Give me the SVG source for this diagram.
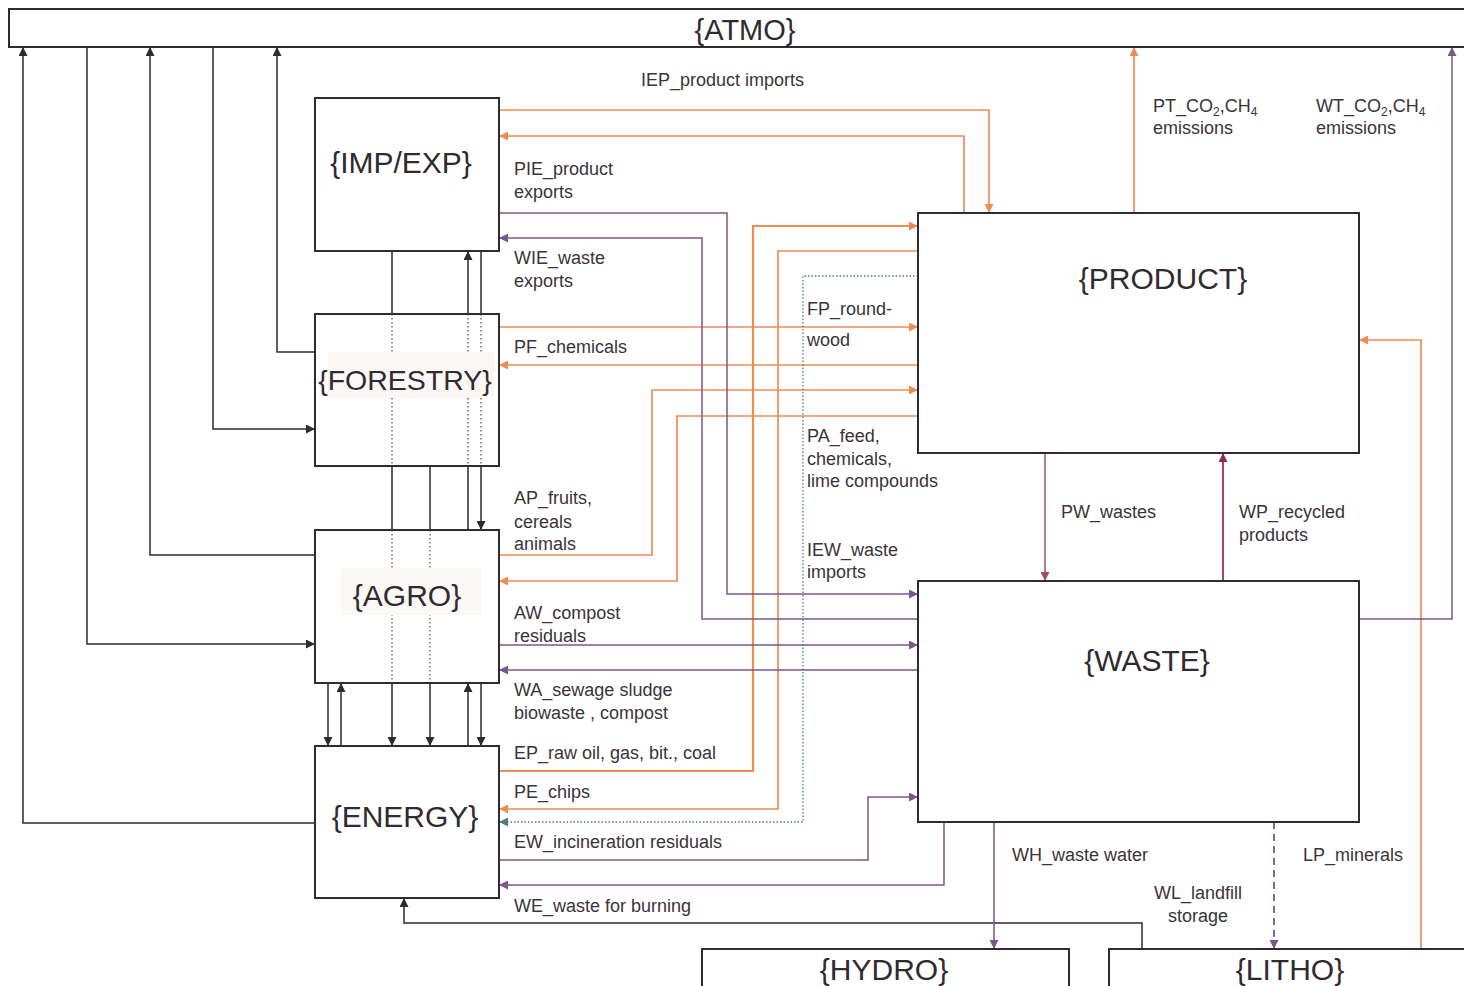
<svg xmlns="http://www.w3.org/2000/svg" width="1464" height="986" viewBox="0 0 1464 986">
<style>
.box{fill:none;stroke:#302a31;stroke-width:2}
.title{font-family:"Liberation Sans",Arial,sans-serif;font-size:30px;fill:#302a31;text-anchor:middle}
.lbl{font-family:"Liberation Sans",Arial,sans-serif;font-size:18px;fill:#3b3339}
.sub{font-size:12px}
.dk{fill:none;stroke:#302a31;stroke-width:1.5}
.dot{fill:none;stroke:#5a5358;stroke-width:1.3;stroke-dasharray:1.5 2.5}
.or{fill:none;stroke:#ef8c55;stroke-width:1.7}
.pu{fill:none;stroke:#7d558c;stroke-width:1.5}
.te{fill:none;stroke:#4d7d85;stroke-width:1.3;stroke-dasharray:1.5 2}
.pw{fill:none;stroke:#a0505c;stroke-width:1.5}
.wp{fill:none;stroke:#8c2a56;stroke-width:1.7}
.bg{fill:#faf7f5}
</style>
<defs>
<marker id="aDk" viewBox="0 0 10 10" refX="10" refY="5" markerWidth="10" markerHeight="9" markerUnits="userSpaceOnUse" orient="auto"><path d="M0,0 L10,5 L0,10 z" fill="#302a31"/></marker>
<marker id="aOr" viewBox="0 0 10 10" refX="10" refY="5" markerWidth="10" markerHeight="9" markerUnits="userSpaceOnUse" orient="auto"><path d="M0,0 L10,5 L0,10 z" fill="#ef8c55"/></marker>
<marker id="aPu" viewBox="0 0 10 10" refX="10" refY="5" markerWidth="10" markerHeight="9" markerUnits="userSpaceOnUse" orient="auto"><path d="M0,0 L10,5 L0,10 z" fill="#7d558c"/></marker>
<marker id="aTe" viewBox="0 0 10 10" refX="10" refY="5" markerWidth="10" markerHeight="9" markerUnits="userSpaceOnUse" orient="auto"><path d="M0,0 L10,5 L0,10 z" fill="#4d7d85"/></marker>
<marker id="aPw" viewBox="0 0 10 10" refX="10" refY="5" markerWidth="10" markerHeight="9" markerUnits="userSpaceOnUse" orient="auto"><path d="M0,0 L10,5 L0,10 z" fill="#a0505c"/></marker>
<marker id="aWp" viewBox="0 0 10 10" refX="10" refY="5" markerWidth="10" markerHeight="9" markerUnits="userSpaceOnUse" orient="auto"><path d="M0,0 L10,5 L0,10 z" fill="#8c2a56"/></marker>
</defs>
<rect x="0" y="0" width="1464" height="986" fill="#ffffff"/>

<g id="connectors">
  <!-- ATMO links -->
  <path class="dk" d="M315,823 H23 V47" marker-end="url(#aDk)"/>
  <path class="dk" d="M87,47 V644 H315" marker-end="url(#aDk)"/>
  <path class="dk" d="M315,555 H150 V47" marker-end="url(#aDk)"/>
  <path class="dk" d="M213,47 V429 H315" marker-end="url(#aDk)"/>
  <path class="dk" d="M315,352 H277 V47" marker-end="url(#aDk)"/>
  <!-- vertical links between sectors -->
  <path class="dk" d="M392,251 V314 M392,466 V530 M392,683 V746" marker-end="url(#aDk)"/>
  <path class="dot" d="M392,314 V466 M392,530 V683"/>
  <path class="dk" d="M430,466 V530 M430,683 V746" marker-end="url(#aDk)"/>
  <path class="dot" d="M430,530 V683"/>
  <path class="dk" d="M468,530 V466 M468,314 V251" marker-end="url(#aDk)"/>
  <path class="dot" d="M468,314 V466"/>
  <path class="dk" d="M481,251 V314 M481,466 V530" marker-end="url(#aDk)"/>
  <path class="dot" d="M481,314 V466"/>
  <path class="dk" d="M468,746 V683" marker-end="url(#aDk)"/>
  <path class="dk" d="M481,683 V746" marker-end="url(#aDk)"/>
  <path class="dk" d="M328,683 V746" marker-end="url(#aDk)"/>
  <path class="dk" d="M341,746 V683" marker-end="url(#aDk)"/>
  <path class="dk" d="M1142,949 V923 H404 V898" marker-end="url(#aDk)"/>
  <!-- orange product flows -->
  <path class="or" d="M499,110 H989 V213" marker-end="url(#aOr)"/>
  <path class="or" d="M964,213 V136 H499" marker-end="url(#aOr)"/>
  <path class="or" style="stroke-width:2.2" d="M499,771 H753 V226 H918" marker-end="url(#aOr)"/>
  <path class="or" d="M918,251 H778 V809 H499" marker-end="url(#aOr)"/>
  <path class="or" d="M499,327 H918" marker-end="url(#aOr)"/>
  <path class="or" d="M918,365 H499" marker-end="url(#aOr)"/>
  <path class="or" d="M499,555 H652 V390 H918" marker-end="url(#aOr)"/>
  <path class="or" d="M918,416 H677 V581 H499" marker-end="url(#aOr)"/>
  <path class="or" d="M1421,949 V340 H1359" marker-end="url(#aOr)"/>
  <path class="or" d="M1134,213 V47" marker-end="url(#aOr)"/>
  <!-- purple waste flows -->
  <path class="pu" d="M499,213 H727 V594 H918" marker-end="url(#aPu)"/>
  <path class="pu" d="M918,619 H702 V238 H499" marker-end="url(#aPu)"/>
  <path class="pu" d="M499,645 H918" marker-end="url(#aPu)"/>
  <path class="pu" d="M918,670 H499" marker-end="url(#aPu)"/>
  <path class="pu" d="M499,860 H868 V797 H918" marker-end="url(#aPu)"/>
  <path class="pu" d="M944,822 V885 H499" marker-end="url(#aPu)"/>
  <path class="pu" d="M994,822 V949" marker-end="url(#aPu)"/>
  <path class="pu" style="stroke-dasharray:7 5;stroke-width:1.8" d="M1274,822 V949" marker-end="url(#aPu)"/>
  <path class="pu" d="M1359,619 H1452 V47" marker-end="url(#aPu)"/>
  <!-- teal dotted -->
  <path class="te" d="M918,276 H803 V822 H499" marker-end="url(#aTe)"/>
  <!-- product/waste -->
  <path class="pw" d="M1045,453 V581" marker-end="url(#aPw)"/>
  <path class="wp" d="M1223,581 V453" marker-end="url(#aWp)"/>
</g>

<g id="labels">
  <text class="lbl" x="641" y="86">IEP_product imports</text>
  <text class="lbl" x="514" y="175">PIE_product</text>
  <text class="lbl" x="514" y="198">exports</text>
  <text class="lbl" x="514" y="264">WIE_waste</text>
  <text class="lbl" x="514" y="287">exports</text>
  <text class="lbl" x="807" y="315">FP_round-</text>
  <text class="lbl" x="807" y="346">wood</text>
  <text class="lbl" x="514" y="353">PF_chemicals</text>
  <text class="lbl" x="807" y="442">PA_feed,</text>
  <text class="lbl" x="807" y="465">chemicals,</text>
  <text class="lbl" x="807" y="487">lime compounds</text>
  <text class="lbl" x="807" y="556">IEW_waste</text>
  <text class="lbl" x="807" y="578">imports</text>
  <text class="lbl" x="514" y="504">AP_fruits,</text>
  <text class="lbl" x="514" y="528">cereals</text>
  <text class="lbl" x="514" y="550">animals</text>
  <text class="lbl" x="514" y="619">AW_compost</text>
  <text class="lbl" x="514" y="642">residuals</text>
  <text class="lbl" x="514" y="696">WA_sewage sludge</text>
  <text class="lbl" x="514" y="719">biowaste , compost</text>
  <text class="lbl" x="514" y="759">EP_raw oil, gas, bit., coal</text>
  <text class="lbl" x="514" y="798">PE_chips</text>
  <text class="lbl" x="514" y="848">EW_incineration residuals</text>
  <text class="lbl" x="514" y="912">WE_waste for burning</text>
  <text class="lbl" x="1061" y="518">PW_wastes</text>
  <text class="lbl" x="1239" y="518">WP_recycled</text>
  <text class="lbl" x="1239" y="541">products</text>
  <text class="lbl" x="1153" y="112">PT_CO<tspan class="sub" dy="4">2</tspan><tspan dy="-4">,CH</tspan><tspan class="sub" dy="4">4</tspan></text>
  <text class="lbl" x="1153" y="134">emissions</text>
  <text class="lbl" x="1316" y="112">WT_CO<tspan class="sub" dy="4">2</tspan><tspan dy="-4">,CH</tspan><tspan class="sub" dy="4">4</tspan></text>
  <text class="lbl" x="1316" y="134">emissions</text>
  <text class="lbl" x="1012" y="861">WH_waste water</text>
  <text class="lbl" x="1303" y="861">LP_minerals</text>
  <text class="lbl" x="1198" y="899" text-anchor="middle">WL_landfill</text>
  <text class="lbl" x="1198" y="922" text-anchor="middle">storage</text>
</g>

<g id="atmo">
  <rect class="box" x="9" y="9" width="1480" height="38"/>
  <text class="title" x="745" y="40" style="font-size:29px">{ATMO}</text>
</g>
<g id="impexp">
  <rect class="box" x="315" y="98" width="184" height="153"/>
  <text class="title" x="401" y="173">{IMP/EXP}</text>
</g>
<g id="forestry">
  <rect class="box" x="315" y="314" width="184" height="152"/>
  <rect class="bg" x="328" y="352" width="166" height="46"/>
  <text class="title" x="405" y="390" style="font-size:28.5px">{FORESTRY}</text>
</g>
<g id="agro">
  <rect class="box" x="315" y="530" width="184" height="153"/>
  <rect class="bg" x="341" y="568" width="140" height="47"/>
  <text class="title" x="407" y="606">{AGRO}</text>
</g>
<g id="energy">
  <rect class="box" x="315" y="746" width="184" height="152"/>
  <text class="title" x="405" y="827">{ENERGY}</text>
</g>
<g id="product">
  <rect class="box" x="918" y="213" width="441" height="240"/>
  <text class="title" x="1163" y="289">{PRODUCT}</text>
</g>
<g id="waste">
  <rect class="box" x="918" y="581" width="441" height="241"/>
  <text class="title" x="1147" y="671">{WASTE}</text>
</g>
<g id="hydro">
  <rect class="box" x="702" y="949" width="367" height="60"/>
  <text class="title" x="884" y="980">{HYDRO}</text>
</g>
<g id="litho">
  <rect class="box" x="1109" y="949" width="400" height="60"/>
  <text class="title" x="1290" y="980">{LITHO}</text>
</g>
</svg>
